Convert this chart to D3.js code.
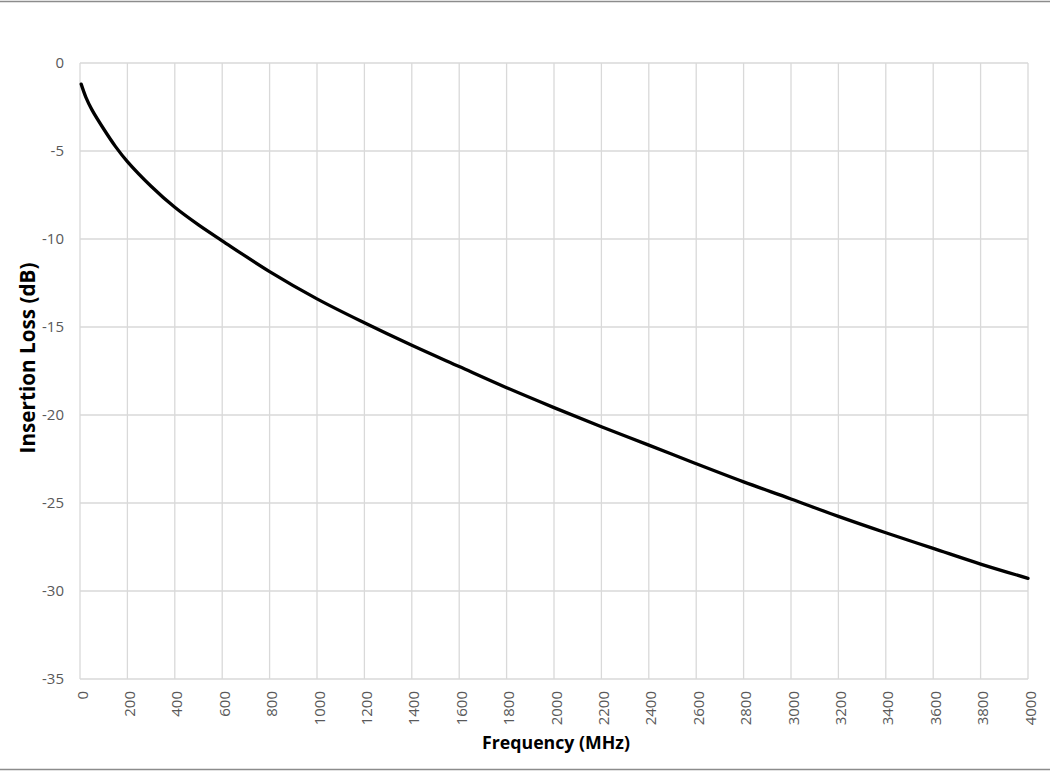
<!DOCTYPE html>
<html>
<head>
<meta charset="utf-8">
<script src="https://cdn.jsdelivr.net/npm/d3@7"></script>
<style>
  html, body { margin: 0; padding: 0; background: #fff; }
  svg { display: block; }
</style>
</head>
<body>
<svg id="chart" width="1050" height="771"></svg>
<script>
// Insertion loss vs. frequency
const frequencyMHz = [5, 25, 50, 100, 150, 200, 300, 400, 500, 600, 800, 1000, 1200, 1400, 1600,
  1800, 2000, 2200, 2400, 2600, 2800, 3000, 3200, 3400, 3600, 3800, 4000];
const insertionLossDb = [-1.2, -1.95, -2.65, -3.75, -4.75, -5.6, -7.0, -8.2, -9.2, -10.1, -11.85,
  -13.4, -14.76, -16.04, -17.25, -18.45, -19.58, -20.67, -21.71, -22.77, -23.8, -24.77, -25.76,
  -26.69, -27.58, -28.47, -29.28];

const xTicks = d3.range(0, 4001, 200);
const yTicks = [0, -5, -10, -15, -20, -25, -30, -35];

const W = 1050, H = 771;
const plot = { left: 80, right: 1028, top: 63, bottom: 679 };

const svg = d3.select("#chart");

const x = d3.scaleLinear().domain([0, 4000]).range([plot.left, plot.right]);
const y = d3.scaleLinear().domain([-35, 0]).range([plot.bottom, plot.top]);

// outer frame lines
svg.append("line").attr("x1", 0).attr("x2", W).attr("y1", 1.5).attr("y2", 1.5)
  .attr("stroke", "#8c8c8c").attr("stroke-width", 1.5);
svg.append("line").attr("x1", 0).attr("x2", W).attr("y1", 769.5).attr("y2", 769.5)
  .attr("stroke", "#8c8c8c").attr("stroke-width", 1.5);

// gridlines
const grid = svg.append("g").attr("stroke", "#d9d9d9").attr("stroke-width", 1.3);
grid.selectAll("line.v").data(xTicks).join("line")
  .attr("class", "v")
  .attr("x1", d => x(d)).attr("x2", d => x(d))
  .attr("y1", plot.top).attr("y2", plot.bottom);
grid.selectAll("line.h").data(yTicks).join("line")
  .attr("class", "h")
  .attr("x1", plot.left).attr("x2", plot.right)
  .attr("y1", d => y(d)).attr("y2", d => y(d));

const tickFont = "'Open Sans', 'Liberation Sans', sans-serif";
const plainNumber = d => String(d);

// y axis labels
const yAxis = svg.append("g")
  .attr("transform", `translate(${plot.left},0)`)
  .call(d3.axisLeft(y).tickValues(yTicks).tickSize(0).tickPadding(16).tickFormat(plainNumber));
yAxis.select(".domain").remove();
yAxis.selectAll("text")
  .attr("fill", "#595959").style("font-family", tickFont).style("font-size", "15px");

// x axis labels, rotated
const xAxis = svg.append("g")
  .attr("transform", `translate(0,${plot.bottom})`)
  .call(d3.axisBottom(x).tickValues(xTicks).tickSize(0).tickFormat(plainNumber));
xAxis.select(".domain").remove();
xAxis.selectAll("text")
  .attr("fill", "#595959").style("font-family", tickFont).style("font-size", "15px")
  .attr("text-anchor", "end")
  .attr("dy", null)
  .attr("y", 0)
  .attr("x", 0)
  .attr("transform", "translate(1,12) rotate(-90)")
  .attr("dominant-baseline", "central");

// axis titles
function fitTitle(sel, target) {
  const len = sel.node().getComputedTextLength();
  const size = parseFloat(sel.style("font-size"));
  sel.style("font-size", (size * target / len).toFixed(2) + "px");
}

const xTitle = svg.append("text")
  .attr("x", 556).attr("y", 749)
  .attr("text-anchor", "middle")
  .attr("fill", "#000")
  .style("font-family", tickFont).style("font-weight", "bold").style("font-size", "16px")
  .text("Frequency (MHz)");
fitTitle(xTitle, 148);

const yTitle = svg.append("text")
  .attr("transform", "translate(35,358) rotate(-90)")
  .attr("text-anchor", "middle")
  .attr("fill", "#000")
  .style("font-family", tickFont).style("font-weight", "bold").style("font-size", "16px")
  .text("Insertion Loss (dB)");
fitTitle(yTitle, 191);

// loss curve
const pts = frequencyMHz.map((f, i) => [f, insertionLossDb[i]]);
svg.append("path")
  .datum(pts)
  .attr("fill", "none")
  .attr("stroke", "#000")
  .attr("stroke-width", 3.3)
  .attr("stroke-linecap", "round")
  .attr("stroke-linejoin", "round")
  .attr("d", d3.line().x(d => x(d[0])).y(d => y(d[1])).curve(d3.curveCatmullRom.alpha(0.5)));
</script>
</body>
</html>
